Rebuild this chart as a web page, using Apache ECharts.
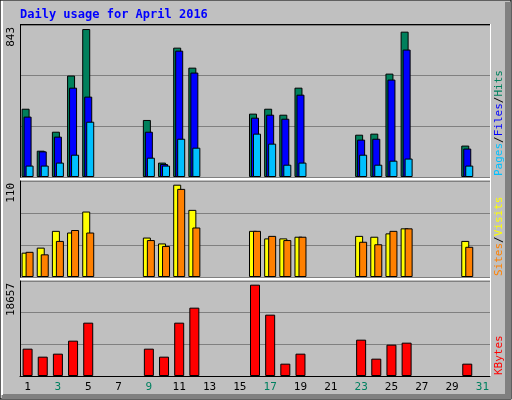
<!DOCTYPE html>
<html><head><meta charset="utf-8">
<script src="https://cdn.jsdelivr.net/npm/echarts@6/dist/echarts.min.js"></script>
<style>html,body{margin:0;padding:0;background:#c0c0c0}#c{width:512px;height:400px}</style>
</head><body><div id="c"></div>
<script>
const days = Array.from({length:31},(_,i)=>String(i+1));
const weekend = ['2','3','9','10','16','17','23','24','30','31'];
const N = null;
const hits  = [389,150,258,578,843,N,N,N,325,82,737,623,N,N,N,361,389,355,509,N,N,N,241,247,589,828,N,N,N,179,N];
const files = [344,146,230,509,458,N,N,N,258,74,720,595,N,N,N,338,355,332,469,N,N,N,213,218,555,726,N,N,N,162,N];
const pages = [65,65,82,127,315,N,N,N,110,65,218,167,N,N,N,247,190,70,82,N,N,N,127,70,93,105,N,N,N,65,N];
const visits= [29,35,55,53,78,N,N,N,47,40,110,80,N,N,N,55,46,46,48,N,N,N,49,48,52,58,N,N,N,43,N];
const sites = [30,27,43,56,53,N,N,N,44,37,105,59,N,N,N,55,49,44,48,N,N,N,42,39,55,58,N,N,N,36,N];
const kbytes= [5584,3950,4563,7219,10896,N,N,N,5584,3950,10896,13960,N,N,N,18657,12530,2520,4563,N,N,N,7423,3541,6401,6810,N,N,N,2520,N];
const maxLabels = ['843','110','18657'];

const mono = 'DejaVu Sans Mono';
const grids = [
  {left:20,right:22,top:25,height:152},
  {left:20,right:22,top:181,height:96},
  {left:20,right:22,top:281,height:95}
];
const ymax = [866,114.4,19408];
const xAxes = grids.map((g,i)=>({
  type:'category', gridIndex:i, data:days, boundaryGap:true,
  axisLine:{show:i===2,lineStyle:{color:'#000'}}, axisTick:{show:false},
  axisLabel:{show:i===2, fontFamily:mono, fontSize:11, margin:6,
    color:(v)=>weekend.includes(v)?'#008060':'#000'}
}));
const yAxes = grids.map((g,i)=>({
  type:'value', gridIndex:i, min:0, max:ymax[i], interval:ymax[i]/3,
  axisLabel:{show:false}, axisTick:{show:false},
  axisLine:{show:true,lineStyle:{color:'#000'}},
  splitLine:{show:true,lineStyle:{color:'#808080',width:1}}
}));
const bs = (name,data,color,xi,w,gap)=>({
  type:'bar', name, data, xAxisIndex:xi, yAxisIndex:xi, barWidth:w, barGap:gap,
  itemStyle:{color, borderColor:'#000', borderWidth:1}, animation:false, silent:true
});
const series = [
  bs('Hits',hits,'#00805c',0,8,'-75%'),
  bs('Files',files,'#0000ff',0,8,'-75%'),
  bs('Pages',pages,'#00c0ff',0,8,'-75%'),
  bs('Visits',visits,'#ffff00',1,8,'-50%'),
  bs('Sites',sites,'#ff8000',1,8,'-50%'),
  bs('KBytes',kbytes,'#ff0000',2,10,'0%')
];
const vtxt = (x,y,text,color,extra)=>Object.assign({type:'text',x,y,rotation:Math.PI/2,
  style:{text,fill:color,font:'11px "'+mono+'"',textAlign:'right',textVerticalAlign:'top'}},extra||{});
const graphic = [
  {type:'rect',shape:{x:0,y:0,width:511,height:399},style:{fill:'none',stroke:'#000',lineWidth:1}},
  {type:'rect',shape:{x:505,y:2,width:6,height:397},style:{fill:'#808080'}},
  {type:'rect',shape:{x:2,y:394,width:509,height:5},style:{fill:'#808080'}},
  {type:'rect',shape:{x:1,y:1,width:2,height:394},style:{fill:'#fff'}},
  {type:'text',x:20,y:9,style:{text:'Daily usage for April 2016',fill:'#0000ff',font:'bold 12px "'+mono+'"'}},
  vtxt(6,27,maxLabels[0],'#000'),
  vtxt(6,183,maxLabels[1],'#000'),
  vtxt(6,283,maxLabels[2],'#000'),
  {type:'text',x:494,y:176,rotation:Math.PI/2,style:{
    rich:{p:{fill:'#00c0ff',font:'11px "'+mono+'"'},f:{fill:'#0000ff',font:'11px "'+mono+'"'},h:{fill:'#00805c',font:'11px "'+mono+'"'},s:{fill:'#000',font:'11px "'+mono+'"'}},
    text:'{p|Pages}{s|/}{f|Files}{s|/}{h|Hits}',textVerticalAlign:'top'}},
  {type:'text',x:494,y:276,rotation:Math.PI/2,style:{
    rich:{a:{fill:'#ff8000',font:'11px "'+mono+'"'},b:{fill:'#ffff00',font:'11px "'+mono+'"'},s:{fill:'#000',font:'11px "'+mono+'"'}},
    text:'{a|Sites}{s|/}{b|Visits}',textVerticalAlign:'top'}},
  {type:'text',x:494,y:375,rotation:Math.PI/2,style:{text:'KBytes',fill:'#ff0000',font:'11px "'+mono+'"',textVerticalAlign:'top'}},
  {type:'line',shape:{x1:20,y1:179,x2:490,y2:179},style:{stroke:'#fff',lineWidth:2}},
  {type:'line',shape:{x1:20,y1:279,x2:490,y2:279},style:{stroke:'#fff',lineWidth:2}},
  {type:'line',shape:{x1:20,y1:24.5,x2:491,y2:24.5},style:{stroke:'#000',lineWidth:1}},
  {type:'line',shape:{x1:490.5,y1:24,x2:490.5,y2:377},style:{stroke:'#fff',lineWidth:1}}
];
const chart = echarts.init(document.getElementById('c'));
chart.setOption({backgroundColor:'#c0c0c0',animation:false,grid:grids,xAxis:xAxes,yAxis:yAxes,series,graphic});
</script></body></html>
